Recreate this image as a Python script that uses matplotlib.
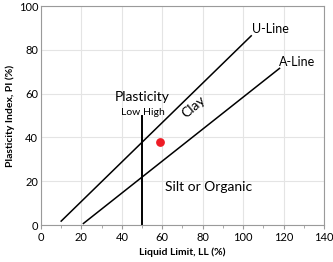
import matplotlib
matplotlib.use("Agg")
import matplotlib.pyplot as plt
import numpy as np

plt.rcParams['font.family'] = ['Lato', 'DejaVu Sans']

# Data
u_line_ll = [10, 104]
u_line_pi = [0.9 * (x - 8) for x in u_line_ll]
a_line_ll = [21, 118]
a_line_pi = [0.73 * (x - 20) for x in a_line_ll]
divider_ll = [50, 50]
divider_pi = [0, 50]
sample_ll = [59]
sample_pi = [38]

fig = plt.figure(figsize=(3.33, 2.62), dpi=100)
ax = fig.add_axes([0.123, 0.141, 0.850, 0.836])

ax.plot(u_line_ll, u_line_pi, color='black', lw=1.1)
ax.plot(a_line_ll, a_line_pi, color='black', lw=1.1)
ax.plot(divider_ll, divider_pi, color='black', lw=1.4)
ax.scatter(sample_ll, sample_pi, color='#ee1c25', s=28, zorder=5)

ax.set_xlim(0, 140)
ax.set_ylim(0, 100)
ax.set_xticks(np.arange(0, 141, 20))
ax.set_xticks(np.arange(0, 141, 10), minor=True)
ax.set_yticks(np.arange(0, 101, 20))
ax.grid(True, which='major', color='#e4e4e4', lw=0.8)
ax.set_axisbelow(True)
for s in ax.spines.values():
    s.set_color('#9a9a9a')
    s.set_linewidth(0.8)
ax.tick_params(which='both', direction='out', color='#9a9a9a', labelsize=8, pad=2)
ax.tick_params(which='major', length=3)
ax.tick_params(which='minor', length=2)
ax.tick_params(axis='y', length=0)

ax.set_xlabel('Liquid Limit, LL (%)', fontsize=7.5, fontweight='bold', labelpad=3)
ax.set_ylabel('Plasticity Index, PI (%)', fontsize=7.5, fontweight='bold', labelpad=3)

ax.text(50, 58.5, 'Plasticity', fontsize=10, ha='center', va='center')
ax.text(49.3, 51.5, 'Low', fontsize=7.5, ha='right', va='center')
ax.text(50.7, 51.5, 'High', fontsize=7.5, ha='left', va='center')
ax.text(75.5, 54, 'Clay', fontsize=10, ha='center', va='center', rotation=40)
ax.text(61.5, 17.5, 'Silt or Organic', fontsize=10, ha='left', va='center')
ax.text(104.5, 89.5, 'U-Line', fontsize=9, ha='left', va='center')
ax.text(117.5, 74.5, 'A-Line', fontsize=9, ha='left', va='center')

fig.savefig('out.png', dpi=100)
